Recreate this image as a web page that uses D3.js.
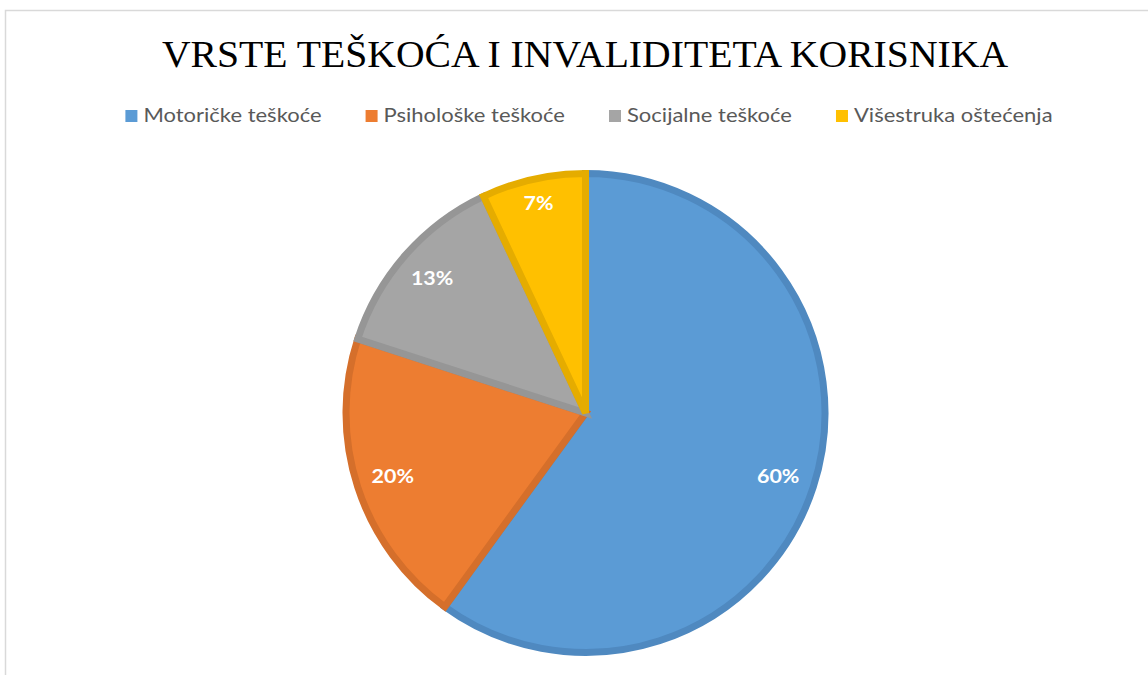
<!DOCTYPE html>
<html>
<head>
<meta charset="utf-8">
<script src="https://cdn.jsdelivr.net/npm/d3@7"></script>
<style>
html,body{margin:0;padding:0;background:#fff;}
svg{display:block;}
</style>
</head>
<body>
<svg id="chart" width="1148" height="675"></svg>
<script>
const title = "VRSTE TEŠKOĆA I INVALIDITETA KORISNIKA";
const categories = ["Motoričke teškoće", "Psihološke teškoće", "Socijalne teškoće", "Višestruka oštećenja"];
const values = [60, 20, 13, 7];
const fillColors = ["#5B9BD5", "#ED7D31", "#A5A5A5", "#FFC000"];
const strokeColors = ["#4F89C0", "#D56F2B", "#969696", "#E5AC00"];

const svg = d3.select("#chart");
const W = 1148, H = 675;
const stretch = 1.1;

svg.append("rect").attr("x", 0).attr("y", 0).attr("width", W).attr("height", H).attr("fill", "#fff");
svg.append("rect").attr("x", 5.5).attr("y", 10.5).attr("width", 1200).attr("height", 700)
  .attr("fill", "#fff").attr("stroke", "#d9d9d9").attr("stroke-width", 1.5);

// Title
const tt = svg.append("text").attr("x", 585).attr("y", 67).attr("text-anchor", "middle")
  .attr("font-family", "'Liberation Serif', 'Times New Roman', serif")
  .attr("font-size", 37.5).attr("fill", "#000").text(title);
tt.attr("textLength", tt.node().getComputedTextLength() * 1.058).attr("lengthAdjust", "spacingAndGlyphs");

// Legend
const legend = svg.append("g");
let lx = 0;
categories.forEach((c, i) => {
  const g = legend.append("g");
  g.append("rect").attr("x", 0).attr("y", -12).attr("width", 12).attr("height", 12).attr("fill", fillColors[i]);
  const t = g.append("text").attr("x", 18).attr("y", 0)
    .attr("font-family", "Lato, 'Open Sans', sans-serif").attr("font-size", 20)
    .attr("fill", "#595959").text(c);
  const w = t.node().getComputedTextLength() * stretch;
  t.attr("textLength", w).attr("lengthAdjust", "spacingAndGlyphs");
  g.attr("transform", `translate(${lx},0)`);
  lx += 18 + w + 44;
});
const legendW = lx - 44;
legend.attr("transform", `translate(${589 - legendW / 2},122)`);

// Pie
const cx = 585.5, cy = 413, R = 239.5;
const pie = d3.pie().sort(null).value(d => d);
const arcs = pie(values);
const arc = d3.arc().innerRadius(0).outerRadius(R);
const g = svg.append("g").attr("transform", `translate(${cx},${cy})`);
g.selectAll("path.slice").data(arcs).enter().append("path")
  .attr("class", "slice")
  .attr("d", arc)
  .attr("fill", (d, i) => fillColors[i])
  .attr("stroke", (d, i) => strokeColors[i])
  .attr("stroke-width", 7)
  .attr("stroke-linejoin", "miter");

// Labels (inside end)
const total = d3.sum(values);
const Rin = 225;
arcs.forEach((d, i) => {
  const a = (d.startAngle + d.endAngle) / 2;
  const sx = Math.sin(a), sy = -Math.cos(a);
  const t = g.append("text")
    .attr("font-family", "Lato, 'Open Sans', sans-serif").attr("font-weight", "bold")
    .attr("font-size", 19.5).attr("fill", "#fff").attr("text-anchor", "middle")
    .text(Math.round(d.value / total * 100) + "%");
  const w = t.node().getComputedTextLength() * stretch;
  t.attr("textLength", w).attr("lengthAdjust", "spacingAndGlyphs");
  const h = 14;
  const dist = Rin - (Math.abs(sx) * w / 2 + Math.abs(sy) * h / 2);
  t.attr("x", sx * dist).attr("y", sy * dist + h / 2);
});
</script>
</body>
</html>
